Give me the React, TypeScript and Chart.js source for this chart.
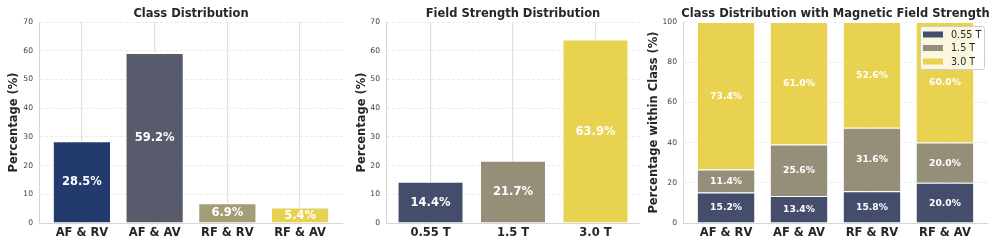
import React, { useEffect, useRef } from 'react';
import { Chart, registerables } from 'chart.js';

Chart.register(...registerables);
Chart.defaults.font.family = "'DejaVu Sans', sans-serif";

// ---------- data ----------
const classCategories = ['AF & RV', 'AF & AV', 'RF & RV', 'RF & AV'];
const classPercent = [28.5, 59.2, 6.9, 5.4];
const classColors = ['#223B6C', '#575B6C', '#A59D76', '#E7D153'];

const fieldCategories = ['0.55 T', '1.5 T', '3.0 T'];
const fieldPercent = [14.4, 21.7, 63.9];
const fieldColors = ['#444E6C', '#958E78', '#E8D24F'];

const withinClass055 = [15.2, 13.4, 15.8, 20.0];
const withinClass15 = [11.4, 25.6, 31.6, 20.0];
const withinClass30 = [73.4, 61.0, 52.6, 60.0];

const yTicksPercent = [0, 10, 20, 30, 40, 50, 60, 70];
const yTicksWithin = [0, 20, 40, 60, 80, 100];

// ---------- styling helpers ----------
const TEXT = '#262626';
const TICK = '#3c3c3c';
const GRID_V = '#e0e0e0';
const GRID_H = '#e6e6e6';
const SPINE = '#d6d6d6';

const annotPlugin = {
  id: 'annot',
  afterDatasetsDraw(chart: any, _args: any, opts: any) {
    const ctx = chart.ctx;
    ctx.save();
    ctx.font = `bold ${opts.labelSize}px 'DejaVu Sans'`;
    ctx.fillStyle = '#ffffff';
    ctx.textAlign = 'center';
    ctx.textBaseline = 'middle';
    chart.data.datasets.forEach((ds: any, di: number) => {
      const meta = chart.getDatasetMeta(di);
      meta.data.forEach((el: any, i: number) => {
        const v = ds.data[i].y;
        const { x, y, base } = el.getProps(['x', 'y', 'base'], true);
        ctx.fillText(v.toFixed(1) + '%', x, (y + base) / 2 + 0.5);
      });
    });
    ctx.restore();
  },
  afterDraw(chart: any, _args: any, opts: any) {
    const ctx = chart.ctx;
    const ca = chart.chartArea;
    ctx.save();
    ctx.font = `bold 11.5px 'DejaVu Sans'`;
    ctx.fillStyle = TEXT;
    ctx.textAlign = 'center';
    ctx.textBaseline = 'middle';
    ctx.fillText(opts.title, (ca.left + ca.right) / 2, 14);
    if (opts.legend) {
      const w = 64, h = 43;
      const bx = ca.right - 4 - w;
      const by = ca.top + 4;
      ctx.fillStyle = 'rgba(255,255,255,0.82)';
      ctx.strokeStyle = '#cccccc';
      ctx.lineWidth = 1;
      ctx.beginPath();
      ctx.roundRect(bx + 0.5, by + 0.5, w, h, 2);
      ctx.fill();
      ctx.stroke();
      ctx.font = `9.6px 'DejaVu Sans'`;
      ctx.textAlign = 'left';
      const rows = [8.5, 22, 35.5];
      chart.data.datasets.forEach((ds: any, i: number) => {
        const cy = by + rows[i];
        ctx.fillStyle = ds.backgroundColor;
        ctx.fillRect(bx + 3, cy - 3, 20, 6);
        ctx.fillStyle = TEXT;
        ctx.fillText(ds.label, bx + 31, cy + 0.5);
      });
    }
    ctx.restore();
  },
};

function makeConfig(p: {
  cats: string[];
  datasets: any[];
  xMin: number;
  xMax: number;
  yTicks: number[];
  yTitle: string;
  title: string;
  yWidth: number;
  padRight: number;
  yTitlePad: number;
  labelSize: number;
  legend: boolean;
  stacked: boolean;
}) {
  return {
    type: 'bar',
    data: { datasets: p.datasets },
    plugins: [annotPlugin],
    options: {
      animation: false,
      responsive: false,
      devicePixelRatio: 1,
      layout: { padding: { top: 22, left: 0, right: p.padRight, bottom: 0 } },
      plugins: {
        legend: { display: false },
        tooltip: { enabled: false },
        title: { display: false },
        annot: { title: p.title, labelSize: p.labelSize, legend: p.legend },
      },
      datasets: { bar: { barPercentage: 0.8, categoryPercentage: 1.0 } },
      scales: {
        x: {
          type: 'linear',
          min: p.xMin,
          max: p.xMax,
          offset: false,
          stacked: p.stacked,
          afterBuildTicks: (s: any) => {
            s.ticks = p.cats.map((_, i) => ({ value: i }));
          },
          afterFit: (s: any) => {
            s.height = 26;
          },
          ticks: {
            autoSkip: false,
            maxRotation: 0,
            padding: 3,
            color: TEXT,
            font: { size: 11.5, weight: 'bold' },
            callback: (v: any) => p.cats[v],
          },
          grid: { color: GRID_V, lineWidth: 1.2, drawTicks: false, offset: false },
          border: { color: SPINE, width: 1 },
        },
        y: {
          type: 'linear',
          min: 0,
          max: p.yTicks[p.yTicks.length - 1],
          stacked: p.stacked,
          afterBuildTicks: (s: any) => {
            s.ticks = p.yTicks.map((v) => ({ value: v }));
          },
          afterFit: (s: any) => {
            s.width = p.yWidth;
          },
          ticks: {
            padding: 6,
            color: TICK,
            font: { size: 7.6 },
          },
          grid: { color: GRID_H, lineWidth: 0.8, drawTicks: false },
          border: { color: SPINE, width: 1, dash: [3, 2] },
          title: {
            display: true,
            text: p.yTitle,
            color: TEXT,
            font: { size: 11.5, weight: 'bold' },
            padding: { top: p.yTitlePad, bottom: 0 },
          },
        },
      },
    },
  };
}

function ChartCanvas({ left, width, config }: { left: number; width: number; config: any }) {
  const ref = useRef<HTMLCanvasElement | null>(null);
  useEffect(() => {
    if (!ref.current) return;
    const chart = new Chart(ref.current, config);
    return () => chart.destroy();
  }, []);
  return (
    <canvas
      ref={ref}
      width={width}
      height={249}
      style={{ position: 'absolute', left, top: 0, width, height: 249 }}
    />
  );
}

export default function App() {
  const cfg1 = makeConfig({
    cats: classCategories,
    datasets: [
      {
        label: 'Class',
        data: classCategories.map((_, i) => ({ x: i, y: classPercent[i] })),
        backgroundColor: classColors,
        borderColor: '#ffffff',
        borderWidth: 1,
      },
    ],
    xMin: -0.59,
    xMax: 3.59,
    yTicks: yTicksPercent,
    yTitle: 'Percentage (%)',
    title: 'Class Distribution',
    yWidth: 39,
    padRight: 7,
    yTitlePad: 7.6,
    labelSize: 11.5,
    legend: false,
    stacked: false,
  });
  const cfg2 = makeConfig({
    cats: fieldCategories,
    datasets: [
      {
        label: 'Field',
        data: fieldCategories.map((_, i) => ({ x: i, y: fieldPercent[i] })),
        backgroundColor: fieldColors,
        borderColor: '#ffffff',
        borderWidth: 1,
      },
    ],
    xMin: -0.54,
    xMax: 2.54,
    yTicks: yTicksPercent,
    yTitle: 'Percentage (%)',
    title: 'Field Strength Distribution',
    yWidth: 36,
    padRight: 5,
    yTitlePad: 5.1,
    labelSize: 11.5,
    legend: false,
    stacked: false,
  });
  const within = [withinClass055, withinClass15, withinClass30];
  const cfg3 = makeConfig({
    cats: classCategories,
    datasets: fieldCategories.map((f, k) => ({
      label: f,
      data: classCategories.map((_, i) => ({ x: i, y: within[k][i] })),
      backgroundColor: fieldColors[k],
      borderColor: '#ffffff',
      borderWidth: 1,
    })),
    xMin: -0.59,
    xMax: 3.59,
    yTicks: yTicksWithin,
    yTitle: 'Percentage within Class (%)',
    title: 'Class Distribution with Magnetic Field Strength',
    yWidth: 38,
    padRight: 9,
    yTitlePad: 2.6,
    labelSize: 9.2,
    legend: true,
    stacked: true,
  });
  return (
    <div
      style={{
        position: 'absolute',
        left: 0,
        top: 0,
        width: 997,
        height: 249,
        background: '#ffffff',
        overflow: 'hidden',
      }}
    >
      <ChartCanvas left={0} width={350} config={cfg1} />
      <ChartCanvas left={350} width={295} config={cfg2} />
      <ChartCanvas left={645} width={352} config={cfg3} />
    </div>
  );
}
